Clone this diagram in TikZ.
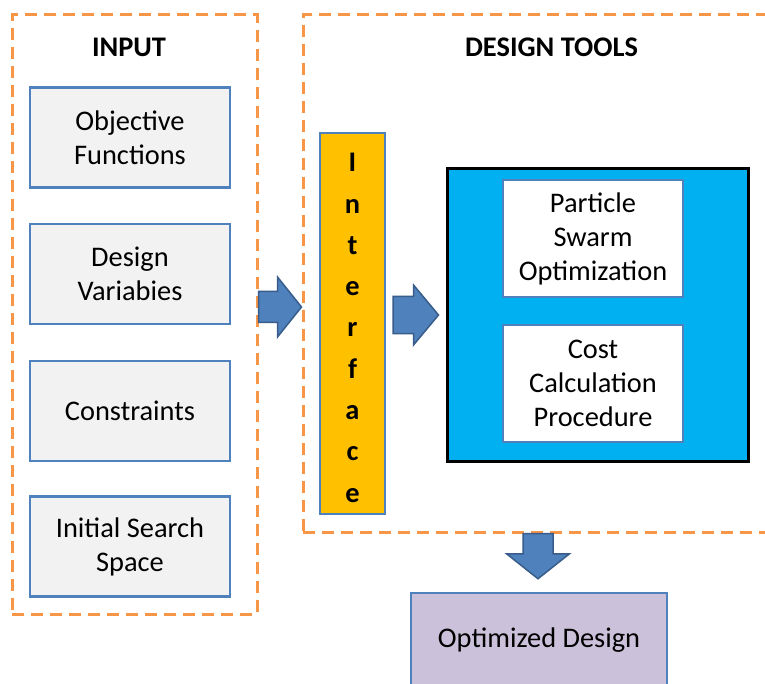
\documentclass[tikz,border=0pt]{standalone}
\usepackage{fontspec}
\setmainfont{Carlito}
\usetikzlibrary{calc}

\definecolor{dashorange}{HTML}{F79646}
\definecolor{boxblue}{HTML}{4F81BD}
\definecolor{boxgray}{HTML}{F2F2F2}
\definecolor{ifaceyellow}{HTML}{FFC000}
\definecolor{toolcyan}{HTML}{00B0F0}
\definecolor{resultlilac}{HTML}{CCC1DA}
\definecolor{arrowedge}{HTML}{385D8A}

% horizontal block arrow: start, tip, shaft half width, head half width, head length
\newcommand{\hblockarrow}[5]{%
  \draw[blockarrow] let \p1=(#1), \p2=(#2) in
    (\x1,\y1+#3) -- (\x2-#5,\y1+#3) -- (\x2-#5,\y1+#4) -- (\x2,\y1)
    -- (\x2-#5,\y1-#4) -- (\x2-#5,\y1-#3) -- (\x1,\y1-#3) -- cycle;}
% downward block arrow: start, tip, shaft half width, head half width, head length
\newcommand{\vblockarrow}[5]{%
  \draw[blockarrow] let \p1=(#1), \p2=(#2) in
    (\x1+#3,\y1) -- (\x1+#3,\y2+#5) -- (\x1+#4,\y2+#5) -- (\x1,\y2)
    -- (\x1-#4,\y2+#5) -- (\x1-#3,\y2+#5) -- (\x1-#3,\y1) -- cycle;}

\tikzset{
  txt/.style={font=\fontsize{28.4}{34}\selectfont, align=center, inner sep=0pt},
  heading/.style={font=\fontsize{28.4}{34}\selectfont\bfseries, inner sep=0pt},
  frame/.style={draw=dashorange, line width=3pt, dash pattern=on 12pt off 7pt,
    rectangle, inner sep=0pt},
  inbox/.style={txt, draw=boxblue, fill=boxgray, line width=2.5pt,
    minimum width=200pt, minimum height=100pt},
  ifacebox/.style={draw=boxblue, fill=ifaceyellow, line width=2pt,
    minimum width=65pt, minimum height=381pt, inner sep=0pt},
  toolbox/.style={draw=black, fill=toolcyan, line width=3pt,
    minimum width=301pt, minimum height=292pt, inner sep=0pt},
  methodbox/.style={txt, draw=boxblue, fill=white, line width=2pt,
    minimum width=180pt, minimum height=117pt},
  outbox/.style={txt, draw=boxblue, fill=resultlilac, line width=2.5pt,
    minimum width=256pt, minimum height=95pt},
  blockarrow/.style={draw=arrowedge, fill=boxblue, line width=1.5pt, line join=miter},
  ifaceletter/.style={font=\fontsize{28.4}{34}\selectfont\bfseries, inner sep=0pt, anchor=base},
}

\begin{document}
\begin{tikzpicture}[x=1pt, y=-1pt]
\useasboundingbox (0,0) rectangle (765,684);
\clip (0,0) rectangle (765,684);
\fill[white] (0,0) rectangle (765,684);

% dashed frames
\node[frame, minimum width=245pt, minimum height=599pt] (inframe) at (134.5,314.5) {};
\node[frame, minimum width=487pt, minimum height=517pt] (toolframe) at (546.5,273.5) {};

\node[heading] (inhead) at (129,47) {INPUT};
\node[heading] (toolhead) at (551.5,47) {DESIGN TOOLS};

% input items
\node[inbox] (obj) at (130,137.5) {Objective\\Functions};
\node[inbox] (var) at (130,274) {Design\\Variabies};
\node[inbox] (con) at (130,411) {Constraints};
\node[inbox] (iss) at (130,546.5) {Initial Search\\Space};

% interface column
\node[ifacebox] (iface) at (352.5,323.5) {};
\foreach \ch [count=\k from 0] in {I,n,t,e,r,f,a,c,e}
  \node[ifaceletter] (iface\k) at (352.5,{172+41.25*\k}) {\ch};

% optimisation core
\node[toolbox] (core) at (597.5,315) {};
\node[methodbox] (pso) at (593,238.5) {Particle\\Swarm\\Optimization};
\node[methodbox] (cost) at (593,383.5) {Cost\\Calculation\\Procedure};

% result
\node[outbox] (result) at (539,640.5) {Optimized Design};

% block arrows
\coordinate (a1s) at (inframe.east |- 0,307);
\coordinate (a1e) at (toolframe.west |- 0,307);
\hblockarrow{a1s}{a1e}{15.5pt}{30pt}{24pt}

\coordinate (a2s) at ([xshift=7pt]iface.east |- 0,315);
\coordinate (a2e) at ([xshift=-7pt]core.west |- 0,315);
\hblockarrow{a2s}{a2e}{18.5pt}{30pt}{25pt}

\coordinate (a3s) at (538,0 |- toolframe.south);
\coordinate (a3e) at ([yshift=13pt]538,0 |- result.north);
\vblockarrow{a3s}{a3e}{15pt}{31.5pt}{25pt}
\end{tikzpicture}
\end{document}
